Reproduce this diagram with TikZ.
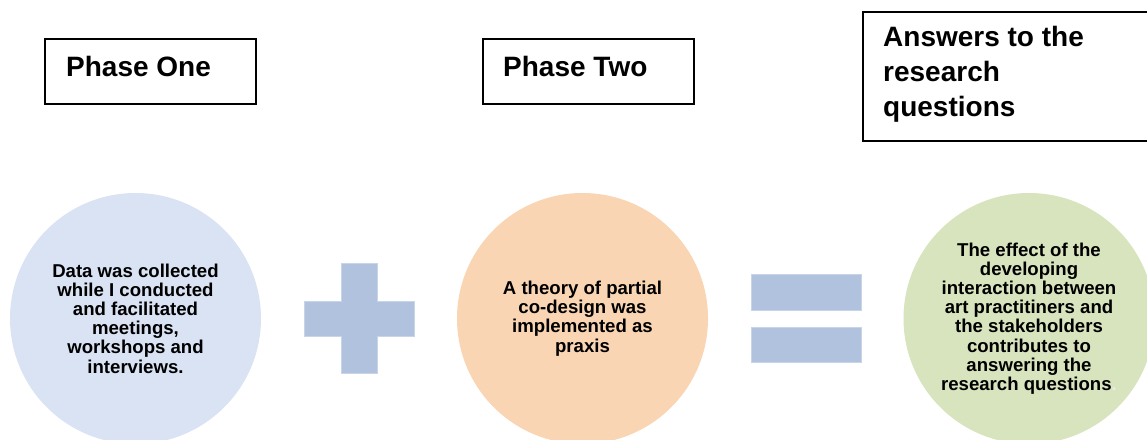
\documentclass[tikz,border=0pt]{standalone}
\usepackage{fontspec}
\setmainfont{Liberation Sans}
\definecolor{cblue}{HTML}{DAE3F3}
\definecolor{corange}{HTML}{F9D5B4}
\definecolor{cgreen}{HTML}{D8E4BD}
\definecolor{csign}{HTML}{B0C2DD}
\definecolor{csignedge}{HTML}{C8D4E8}
\tikzset{
  phasebox/.style={draw=black, line width=1.5pt, fill=white, anchor=north west, inner sep=0pt},
  phasetext/.style={font=\fontsize{28}{35}\selectfont\bfseries, inner sep=0pt, align=left},
  bubble/.style={circle, minimum size=251pt, inner sep=0pt, align=center,
    font=\fontsize{18.6}{19.2}\selectfont\bfseries},
  sign/.style={fill=csign, draw=csignedge, line width=0.8pt}
}
\begin{document}
\begin{tikzpicture}[x=1pt,y=-1pt]
\clip (0,0) rectangle (1147,439);
\useasboundingbox (0,0) rectangle (1147,439);

% header boxes
\node[phasebox, minimum width=211pt, minimum height=65pt] (p1box) at (44,38) {};
\node[phasetext, anchor=base west] (p1) at (66,76) {Phase One};
\node[phasebox, minimum width=211pt, minimum height=65pt] (p2box) at (482,38) {};
\node[phasetext, anchor=base west] (p2) at (503,76) {Phase Two};
\node[phasebox, minimum width=300pt, minimum height=129pt] (p3box) at (862,11) {};
\node[phasetext, anchor=north west] (p3) at (883,26.5) {Answers to the\\research\\questions};

% circles
\node[bubble, fill=cblue] (c1) at (135.5,318.5)
  {Data was collected\\while I conducted\\and facilitated\\meetings,\\workshops and\\interviews.};
\node[bubble, fill=corange] (c2) at (582.5,318.5)
  {A theory of partial\\co-design was\\implemented as\\praxis};
\node[bubble, fill=cgreen] (c3) at (1029,318.5)
  {The effect of the\\developing\\interaction between\\art practitiners and\\the stakeholders\\contributes to\\answering the\\research questions{\color{black!8}.}};

% plus sign
\path[sign] (341,263) -- (377,263) -- (377,301) -- (414,301) -- (414,336) -- (377,336)
  -- (377,373) -- (341,373) -- (341,336) -- (304,336) -- (304,301) -- (341,301) -- cycle;

% equals sign
\path[sign] (751,274) rectangle (861,310);
\path[sign] (751,327) rectangle (861,362);
\end{tikzpicture}
\end{document}
